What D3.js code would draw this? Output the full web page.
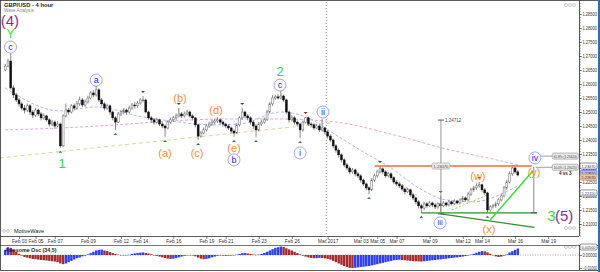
<!DOCTYPE html>
<html>
<head>
<meta charset="utf-8">
<script src="https://cdn.jsdelivr.net/npm/d3@7"></script>
<style>
body { margin: 0; background: #fff; }
svg { display: block; }
</style>
</head>
<body>
<script>
// GBP/USD 4 hour bars, first bar Feb 02 04:00, open of first bar
var firstOpen = 1.2650;
var closes = [
  1.2664, 1.2682, 1.2586, 1.2561, 1.2543, 1.2529, 1.2514, 1.2507, 1.2522, 1.2500,
  1.2489, 1.2507, 1.2493, 1.2479, 1.2486, 1.2472, 1.2457, 1.2464, 1.2450, 1.2457,
  1.2379, 1.2486, 1.2507, 1.2500, 1.2522, 1.2514, 1.2529, 1.2543, 1.2525, 1.2536,
  1.2550, 1.2568, 1.2561, 1.2579, 1.2543, 1.2529, 1.2514, 1.2522, 1.2500, 1.2479,
  1.2464, 1.2493, 1.2500, 1.2507, 1.2500, 1.2514, 1.2525, 1.2522, 1.2532, 1.2543,
  1.2543, 1.2500, 1.2479, 1.2472, 1.2464, 1.2472, 1.2457, 1.2450, 1.2443, 1.2464,
  1.2472, 1.2479, 1.2486, 1.2493, 1.2486, 1.2493, 1.2500, 1.2486, 1.2479, 1.2454,
  1.2414, 1.2425, 1.2436, 1.2450, 1.2457, 1.2464, 1.2468, 1.2472, 1.2464, 1.2457,
  1.2450, 1.2443, 1.2432, 1.2425, 1.2454, 1.2479, 1.2500, 1.2486, 1.2479, 1.2464,
  1.2450, 1.2436, 1.2457, 1.2464, 1.2472, 1.2500, 1.2529, 1.2550, 1.2554, 1.2550,
  1.2557, 1.2543, 1.2500, 1.2472, 1.2479, 1.2464, 1.2457, 1.2436, 1.2464, 1.2479,
  1.2457, 1.2454, 1.2443, 1.2450, 1.2436, 1.2443, 1.2429, 1.2414, 1.2400, 1.2379,
  1.2364, 1.2347, 1.2329, 1.2311, 1.2300, 1.2286, 1.2293, 1.2279, 1.2272, 1.2257,
  1.2243, 1.2229, 1.2222, 1.2257, 1.2272, 1.2286, 1.2297, 1.2286, 1.2272, 1.2279,
  1.2265, 1.2250, 1.2243, 1.2236, 1.2225, 1.2215, 1.2222, 1.2204, 1.2193, 1.2179,
  1.2165, 1.2157, 1.2172, 1.2165, 1.2175, 1.2168, 1.2161, 1.2172, 1.2165, 1.2175,
  1.2168, 1.2179, 1.2172, 1.2182, 1.2175, 1.2186, 1.2193, 1.2186, 1.2207, 1.2222,
  1.2229, 1.2236, 1.2240, 1.2222, 1.2211, 1.2150, 1.2161, 1.2165, 1.2172, 1.2186,
  1.2200, 1.2229, 1.2250, 1.2279, 1.2300, 1.2286, 1.2275
];
var highs = [
  1.2672, 1.2690, 1.2710, 1.2595, 1.2568, 1.2550, 1.2536, 1.2525, 1.2530, 1.2528,
  1.2507, 1.2515, 1.2512, 1.2500, 1.2495, 1.2490, 1.2478, 1.2472, 1.2470, 1.2468,
  1.2462, 1.2492, 1.2530, 1.2515, 1.2528, 1.2530, 1.2540, 1.2555, 1.2550, 1.2545,
  1.2558, 1.2575, 1.2578, 1.2593, 1.2585, 1.2550, 1.2535, 1.2530, 1.2527, 1.2505,
  1.2485, 1.2500, 1.2508, 1.2515, 1.2512, 1.2522, 1.2532, 1.2535, 1.2540, 1.2550,
  1.2557, 1.2548, 1.2505, 1.2486, 1.2478, 1.2480, 1.2476, 1.2465, 1.2455, 1.2470,
  1.2480, 1.2486, 1.2495, 1.2514, 1.2500, 1.2502, 1.2508, 1.2505, 1.2492, 1.2482,
  1.2458, 1.2432, 1.2445, 1.2458, 1.2465, 1.2472, 1.2476, 1.2482, 1.2478, 1.2470,
  1.2462, 1.2455, 1.2448, 1.2438, 1.2460, 1.2485, 1.2514, 1.2505, 1.2492, 1.2485,
  1.2470, 1.2456, 1.2464, 1.2472, 1.2480, 1.2508, 1.2536, 1.2560, 1.2562, 1.2565,
  1.2579, 1.2562, 1.2548, 1.2505, 1.2488, 1.2485, 1.2470, 1.2462, 1.2470, 1.2482,
  1.2484, 1.2464, 1.2460, 1.2458, 1.2456, 1.2475, 1.2448, 1.2435, 1.2420, 1.2405,
  1.2385, 1.2370, 1.2352, 1.2335, 1.2318, 1.2306, 1.2300, 1.2298, 1.2285, 1.2278,
  1.2262, 1.2248, 1.2235, 1.2264, 1.2280, 1.2294, 1.2307, 1.2302, 1.2292, 1.2286,
  1.2284, 1.2270, 1.2256, 1.2250, 1.2242, 1.2230, 1.2230, 1.2226, 1.2210, 1.2198,
  1.2185, 1.2172, 1.2180, 1.2178, 1.2182, 1.2180, 1.2174, 1.2178, 1.2200, 1.2182,
  1.2180, 1.2185, 1.2184, 1.2188, 1.2186, 1.2192, 1.2200, 1.2198, 1.2215, 1.2230,
  1.2236, 1.2245, 1.2250, 1.2244, 1.2228, 1.2215, 1.2168, 1.2172, 1.2180, 1.2192,
  1.2208, 1.2236, 1.2258, 1.2288, 1.2311, 1.2305, 1.2292
];
var lows = [
  1.2645, 1.2660, 1.2580, 1.2550, 1.2536, 1.2520, 1.2505, 1.2495, 1.2500, 1.2490,
  1.2478, 1.2482, 1.2486, 1.2470, 1.2472, 1.2465, 1.2448, 1.2450, 1.2440, 1.2445,
  1.2372, 1.2375, 1.2480, 1.2490, 1.2495, 1.2505, 1.2510, 1.2522, 1.2518, 1.2518,
  1.2530, 1.2545, 1.2552, 1.2555, 1.2536, 1.2520, 1.2505, 1.2508, 1.2490, 1.2470,
  1.2436, 1.2460, 1.2485, 1.2492, 1.2490, 1.2495, 1.2508, 1.2512, 1.2515, 1.2526,
  1.2535, 1.2495, 1.2472, 1.2462, 1.2455, 1.2458, 1.2450, 1.2442, 1.2411, 1.2438,
  1.2458, 1.2465, 1.2472, 1.2480, 1.2478, 1.2480, 1.2488, 1.2480, 1.2470, 1.2445,
  1.2400, 1.2408, 1.2420, 1.2430, 1.2443, 1.2450, 1.2456, 1.2460, 1.2456, 1.2448,
  1.2442, 1.2436, 1.2424, 1.2411, 1.2420, 1.2448, 1.2472, 1.2478, 1.2470, 1.2455,
  1.2440, 1.2411, 1.2430, 1.2450, 1.2458, 1.2468, 1.2495, 1.2522, 1.2543, 1.2545,
  1.2545, 1.2536, 1.2492, 1.2462, 1.2465, 1.2455, 1.2448, 1.2407, 1.2430, 1.2458,
  1.2450, 1.2445, 1.2436, 1.2438, 1.2428, 1.2430, 1.2420, 1.2405, 1.2392, 1.2370,
  1.2355, 1.2338, 1.2320, 1.2302, 1.2292, 1.2278, 1.2280, 1.2270, 1.2264, 1.2248,
  1.2235, 1.2220, 1.2207, 1.2218, 1.2250, 1.2265, 1.2280, 1.2278, 1.2265, 1.2266,
  1.2258, 1.2242, 1.2236, 1.2228, 1.2218, 1.2206, 1.2210, 1.2196, 1.2185, 1.2170,
  1.2155, 1.2140, 1.2150, 1.2158, 1.2160, 1.2160, 1.2154, 1.2155, 1.2136, 1.2160,
  1.2162, 1.2163, 1.2166, 1.2168, 1.2170, 1.2170, 1.2180, 1.2180, 1.2182, 1.2200,
  1.2215, 1.2222, 1.2230, 1.2215, 1.2204, 1.2140, 1.2144, 1.2155, 1.2158, 1.2165,
  1.2180, 1.2195, 1.2222, 1.2245, 1.2272, 1.2280, 1.2270
];
// Awesome oscillator, in thousandths
var aoMilli = [
  4, 6, 5.5, 4, 2.5, 1, -0.5, -1.5, -2, -2.5,
  -3, -3.2, -3.5, -3.8, -4, -4.2, -4.5, -4.8, -5, -5.5,
  -6.5, -7, -6.5, -5.5, -4.5, -3.5, -2.5, -2, -1, -0.5,
  0.5, 1.5, 2.5, 3.5, 4, 4.2, 3.5, 3, 2.2, 1.5,
  0.8, 0.3, 0, -0.3, -0.2, 0.2, 0.8, 1.2, 1.6, 1.8,
  2, 1.6, 1.2, 0.6, 0, -0.6, -1.2, -1.8, -2.3, -2.7,
  -3, -2.8, -2.4, -1.8, -1.2, -0.6, -0.3, -0.2, -0.4, -1,
  -2, -2.8, -3.2, -3, -2.5, -1.8, -1.2, -0.6, -0.3, -0.5,
  -0.6, -0.5, -0.4, -0.2, 0.3, 0.8, 1.4, 1.6, 1.2, 0.8,
  0.4, 0.2, 0.3, 0.8, 1.5, 2.5, 3.5, 4.5, 5.5, 6,
  6.5, 6.2, 5.2, 4.3, 3.5, 2.5, 1.5, 0.5, -0.5, -1.2,
  -1.8, -2.2, -2.5, -2.4, -2.2, -2.3, -2.6, -3, -3.5, -4.5,
  -5.5, -6.5, -7.5, -8.5, -9.2, -9.8, -10, -9.8, -9.5, -9.2,
  -9, -8.7, -8.5, -8, -7.5, -7, -6.5, -6, -5.5, -5,
  -4.5, -4, -3.8, -3.6, -3.8, -4, -4.2, -4.5, -4.7, -4.8,
  -4.9, -5, -4.8, -4.5, -4.3, -4, -3.8, -3.5, -3.3, -3,
  -2.8, -2.5, -2.3, -2, -1.8, -1.5, -1.2, -0.8, -0.4, 0.3,
  1, 1.8, 2.5, 3, 2.8, 2, 1, 0, -1, -1.5,
  -1.2, -0.5, 0.5, 2, 3, 4, 5
];
// moving averages read at a few bars: [bar, price]
var slowMA = [[0, 1.2436], [20, 1.2443], [40, 1.2454], [60, 1.2468], [80, 1.2475], [100, 1.2475],
  [120, 1.2464], [140, 1.2421], [160, 1.2368], [180, 1.2325], [186, 1.2311]];
var fastMA = [[0, 1.2586], [20, 1.2504], [33, 1.2518], [50, 1.2482], [60, 1.2468], [75, 1.2454],
  [85, 1.2457], [100, 1.2500], [110, 1.2479], [120, 1.2418], [130, 1.2357], [140, 1.2300],
  [150, 1.2229], [160, 1.2186], [170, 1.2179], [180, 1.2207], [186, 1.2236]];

var priceTicks = [1.285, 1.280, 1.275, 1.270, 1.265, 1.260, 1.255, 1.250, 1.245, 1.240, 1.235, 1.230, 1.225, 1.220, 1.215, 1.210];
var dateLabels = ["Feb 03", "Feb 05", "Feb 07", "Feb 09", "Feb 12", "Feb 14", "Feb 16", "Feb 19", "Feb 21", "Feb 23",
  "Feb 26", "Mar 2017", "Mar 03", "Mar 05", "Mar 07", "Mar 09", "Mar 12", "Mar 14", "Mar 16", "Mar 19"];
var dateDays = ["2017-02-03", "2017-02-05", "2017-02-07", "2017-02-09", "2017-02-12", "2017-02-14", "2017-02-16",
  "2017-02-19", "2017-02-21", "2017-02-23", "2017-02-26", "2017-03-01", "2017-03-03", "2017-03-05", "2017-03-07",
  "2017-03-09", "2017-03-12", "2017-03-14", "2017-03-16", "2017-03-19"];

// wave count labels
var waveText = ["(4)", "Y", "c", "1", "a", "(a)", "(b)", "(c)", "(d)", "(e)", "b", "2", "c", "i", "ii", "iii", "(w)", "(x)", "(y)", "iv", "3", "(5)"];
var waveKind = ["P", "G", "C", "G", "C", "O", "O", "O", "O", "O", "C", "G", "C", "C", "C", "C", "O", "O", "O", "C", "G", "P"];
var waveBar = [1.7, 1.9, 1.9, 20.6, 33, 58, 63.4, 69.6, 76.5, 83, 83, 99.7, 99.7, 107, 115.3, 157.8, 171.5, 175.5, 191.9, 192.2, 198.2, 202.8];
var wavePrice = [1.2827, 1.2780, 1.2732, 1.2318, 1.2614, 1.2354, 1.2550, 1.2354, 1.2507, 1.2371, 1.2329, 1.2646, 1.2596,
  1.2354, 1.2500, 1.2104, 1.2271, 1.2082, 1.2286, 1.2336, 1.2129, 1.2129];

var swingHighBars = [2, 33, 50, 63, 86, 100, 109, 115, 136, 158, 172];
var swingLowBars = [20, 40, 58, 70, 83, 91, 107, 132, 151, 158, 175];

// drawn studies: [bar, price] pairs
var khakiTrend = [[-2, 1.2336], [118, 1.2461]];
var orangeDash = [[136, 1.2302], [150, 1.2197]];
var khakiDash = [[162, 1.2150], [175, 1.2204]];
var resistance = [[134, 1.2307], [191, 1.2307]];
var greenFlat = [[151, 1.2140], [193, 1.2140]];
var greenDown = [[158, 1.2136], [192, 1.2088]];
var limeUp = [[176, 1.2114], [191.5, 1.2290]];
var measureLine = [[158.1, 1.24712], [158.1, 1.2136]];
var yLine = [[191.8, 1.2304], [191.8, 1.2140]];
var fibLevels = [1.23424, 1.23025];
var fibNames = ["61.8%", "50.0%"];

var W = 600, H = 272;
var plotR = 579, mainTop = 2, mainBot = 236, oscTop = 245, oscBot = 270;
var font = "'Liberation Sans', Arial, sans-serif";

// 4 hour sessions, Saturday closed, Sunday has one bar
var bars = [];
var t = Date.UTC(2017, 1, 2, 4);
while (bars.length < 215) {
  var d = new Date(t);
  var wd = d.getUTCDay();
  if (!(wd === 6 || (wd === 0 && d.getUTCHours() < 20))) bars.push(d);
  t += 4 * 3600 * 1000;
}
var fmtDay = d3.utcFormat("%Y-%m-%d");
function barOfDay(s) {
  for (var i = 0; i < bars.length; i++) if (fmtDay(bars[i]) === s) return i;
  return -1;
}

var candles = closes.map(function (c, i) {
  return { i: i, o: i === 0 ? firstOpen : closes[i - 1], c: c, h: highs[i], l: lows[i] };
});

var x = d3.scaleLinear().domain([-1.9, 208.2]).range([0, plotR]);
var y = d3.scaleLinear().domain([1.20571, 1.28929]).range([mainBot, mainTop]);
var yo = d3.scaleLinear().domain([-0.0115, 0.0077]).range([oscBot, oscTop]);

var svg = d3.select("body").append("svg")
  .attr("width", W).attr("height", H)
  .style("font-family", font);

svg.append("rect").attr("width", W).attr("height", H).attr("fill", "#fff");

var defs = svg.append("defs");
defs.append("clipPath").attr("id", "mainClip").append("rect")
  .attr("x", 0).attr("y", mainTop).attr("width", plotR).attr("height", mainBot - mainTop);

var main = svg.append("g").attr("clip-path", "url(#mainClip)");

// Mar 2017 separator
var marX = x(barOfDay("2017-03-01")) - 1.4;
main.append("line").attr("x1", marX).attr("x2", marX).attr("y1", mainTop).attr("y2", mainBot)
  .attr("stroke", "#999").attr("stroke-dasharray", "1,2");

var line = d3.line().x(function (p) { return x(p[0]); }).y(function (p) { return y(p[1]); });
var curve = d3.line().curve(d3.curveMonotoneX).x(function (p) { return x(p[0]); }).y(function (p) { return y(p[1]); });

main.append("path").attr("d", curve(slowMA)).attr("fill", "none").attr("stroke", "#e0a8e0").attr("stroke-width", 1).attr("stroke-dasharray", "3,2");
main.append("path").attr("d", curve(fastMA)).attr("fill", "none").attr("stroke", "#a8b8ff").attr("stroke-width", 1).attr("stroke-dasharray", "3,2");
main.append("path").attr("d", line(khakiTrend)).attr("fill", "none").attr("stroke", "#d8d8a0").attr("stroke-width", 1).attr("stroke-dasharray", "4,3");
main.append("path").attr("d", line(orangeDash)).attr("fill", "none").attr("stroke", "#f5b090").attr("stroke-width", 1).attr("stroke-dasharray", "2,2");
main.append("path").attr("d", line(khakiDash)).attr("fill", "none").attr("stroke", "#b8b060").attr("stroke-width", 1).attr("stroke-dasharray", "2,2");

// candles
var bw = 1.9;
main.append("g").selectAll("line").data(candles).enter().append("line")
  .attr("x1", function (d) { return x(d.i); }).attr("x2", function (d) { return x(d.i); })
  .attr("y1", function (d) { return y(d.h); }).attr("y2", function (d) { return y(d.l); })
  .attr("stroke", "#555").attr("stroke-width", 0.7);
main.append("g").selectAll("rect").data(candles).enter().append("rect")
  .attr("x", function (d) { return x(d.i) - bw / 2; })
  .attr("y", function (d) { return y(Math.max(d.o, d.c)); })
  .attr("width", bw)
  .attr("height", function (d) { return Math.max(0.8, Math.abs(y(d.o) - y(d.c))); })
  .attr("fill", function (d) { return d.c >= d.o ? "#fff" : "#111"; })
  .attr("stroke", function (d) { return d.c >= d.o ? "#666" : "#111"; })
  .attr("stroke-width", 0.5);

// swing markers
main.append("g").selectAll("path").data(swingHighBars).enter().append("path")
  .attr("d", function (i) { var cx = x(i), cy = y(highs[i]) - 3; return "M" + (cx - 2) + "," + (cy - 2) + "L" + (cx + 2) + "," + (cy - 2) + "L" + cx + "," + cy + "Z"; })
  .attr("fill", "#8b2222");
main.append("g").selectAll("path").data(swingLowBars).enter().append("path")
  .attr("d", function (i) { var cx = x(i), cy = y(lows[i]) + 3; return "M" + (cx - 2) + "," + (cy + 2) + "L" + (cx + 2) + "," + (cy + 2) + "L" + cx + "," + cy + "Z"; })
  .attr("fill", "#2e7d4f");

// studies
main.append("path").attr("d", line(resistance)).attr("stroke", "#ff6a33").attr("stroke-width", 1.4).attr("fill", "none");
main.append("path").attr("d", line(greenFlat)).attr("stroke", "#2f8f2f").attr("stroke-width", 1.3).attr("fill", "none");
main.append("path").attr("d", line(greenDown)).attr("stroke", "#2f8f2f").attr("stroke-width", 1.3).attr("fill", "none");
main.append("path").attr("d", line(limeUp)).attr("stroke", "#33e033").attr("stroke-width", 1.4).attr("fill", "none");
main.append("path").attr("d", line(measureLine)).attr("stroke", "#999").attr("stroke-width", 1).attr("fill", "none");
main.append("path").attr("d", line(yLine)).attr("stroke", "#888").attr("stroke-width", 1).attr("fill", "none");

function cap(bar, price) {
  main.append("line").attr("x1", x(bar) - 3).attr("x2", x(bar) + 3).attr("y1", y(price)).attr("y2", y(price))
    .attr("stroke", "#555").attr("stroke-width", 1);
}
cap(measureLine[0][0], measureLine[0][1]);
cap(measureLine[1][0], measureLine[1][1]);
cap(yLine[1][0], yLine[1][1]);
main.append("text").attr("x", x(measureLine[0][0]) + 4).attr("y", y(measureLine[0][1]) + 2)
  .attr("font-size", 4.5).attr("fill", "#444").text(d3.format(".5f")(measureLine[0][1]));

function tag(parent, cx, cy, w, label, fill, stroke) {
  var g = parent.append("g");
  g.append("rect").attr("x", cx - w / 2).attr("y", cy - 3).attr("width", w).attr("height", 6).attr("rx", 1.5)
    .attr("fill", fill).attr("stroke", stroke).attr("stroke-width", 0.6);
  g.append("text").attr("x", cx).attr("y", cy + 1.6).attr("text-anchor", "middle").attr("font-size", 4.3)
    .attr("textLength", w - 3).attr("lengthAdjust", "spacingAndGlyphs")
    .attr("fill", "#333").text(label);
}
tag(main, x(measureLine[0][0]), y(resistance[0][1]), 18, d3.format(".5f")(resistance[0][1]), "#eee", "#999");

// fib projections from the (y) point
fibLevels.forEach(function (v, k) {
  main.append("line").attr("x1", x(192.5)).attr("x2", x(198.5)).attr("y1", y(v)).attr("y2", y(v))
    .attr("stroke", "#888").attr("stroke-width", 0.8);
  tag(main, x(198.5) + 13, y(v), 26, fibNames[k] + " (" + d3.format(".5f")(v) + ")", "#eee", "#888");
});
main.append("text").attr("x", x(203.2)).attr("y", y(fibLevels[1]) + 8).attr("text-anchor", "middle")
  .attr("font-size", 4.5).attr("font-weight", "bold").attr("fill", "#222").text("4 vs 3");

// wave labels
var kindStyle = {
  P: { color: "#8e2b8e", size: 15 },
  G: { color: "#33dd33", size: 13 },
  O: { color: "#ff8a33", size: 11 },
  C: { color: "#1a1aff", size: 9 }
};
waveText.forEach(function (s, k) {
  var st = kindStyle[waveKind[k]];
  var cx = x(waveBar[k]), cy = y(wavePrice[k]);
  var size = st.size;
  if (s === "3") size = 15;
  if (s === "Y") size = 12;
  if (s === "iii") size = 7.5;
  if (waveKind[k] === "C") {
    main.append("circle").attr("cx", cx).attr("cy", cy).attr("r", 6)
      .attr("fill", "#fff").attr("stroke", "#8c8cff").attr("stroke-width", 0.8);
  }
  main.append("text").attr("x", cx).attr("y", cy).attr("dy", "0.35em")
    .attr("text-anchor", "middle").attr("font-size", size)
    .attr("fill", st.color).text(s);
});

// title + legend
svg.append("text").attr("x", 4).attr("y", 6.6).attr("font-size", 5.8).attr("font-weight", "bold").attr("fill", "#222").text("GBP/USD - 4 hour");
svg.append("text").attr("x", 4).attr("y", 11.8).attr("font-size", 4.6).attr("fill", "#888").text("Wave Analysis");
svg.append("text").attr("x", 14).attr("y", 233).attr("font-size", 5.5).attr("fill", "#222").text("MotiveWave");
[4, 8].forEach(function (cx) {
  svg.append("circle").attr("cx", cx).attr("cy", 231).attr("r", 1.4).attr("fill", "none").attr("stroke", "#999").attr("stroke-width", 0.5);
});
function icons(x0, cy) {
  [0, 4, 8].forEach(function (dx) {
    svg.append("circle").attr("cx", x0 + dx).attr("cy", cy).attr("r", 1.5).attr("fill", "none").attr("stroke", "#aaa").attr("stroke-width", 0.6);
  });
}
icons(566, 5);
icons(566, 228);
icons(566, 247);

function styleAxisText(g) {
  g.selectAll("text").attr("font-size", 4.5).attr("fill", "#333").attr("font-family", font)
    .attr("textLength", 14.5).attr("lengthAdjust", "spacingAndGlyphs");
}

// right price axis
var axisG = svg.append("g").attr("transform", "translate(" + plotR + ",0)");
var minorTicks = d3.range(1.206, 1.2895, 0.001);
axisG.append("g").call(d3.axisRight(y).tickValues(minorTicks).tickSize(2).tickFormat(""))
  .call(function (g) { g.select(".domain").remove(); g.selectAll("line").attr("stroke", "#555").attr("stroke-width", 0.5); });
axisG.append("g").call(d3.axisRight(y).tickValues(priceTicks).tickSize(3).tickPadding(0.5).tickFormat(d3.format(".5f")))
  .call(function (g) {
    g.select(".domain").remove();
    g.selectAll("line").attr("stroke", "#333").attr("stroke-width", 0.6);
    styleAxisText(g);
  });
svg.append("line").attr("x1", plotR + 0.5).attr("x2", plotR + 0.5).attr("y1", 0).attr("y2", mainBot).attr("stroke", "#333").attr("stroke-width", 0.8);

// axis price tags
var lastClose = closes[closes.length - 1];
var axisTags = [
  { v: resistance[0][1], fill: "#fff", stroke: "#444" },
  { v: lastClose + 0.0006, fill: "#b8b8ff", stroke: "#4a4aff" },
  { v: lastClose - 0.0008, fill: "#f3c0a8", stroke: "#c96" },
  { v: 1.2211, fill: "#fff", stroke: "#444" }
];
axisTags.forEach(function (a) {
  tag(svg, plotR + 9.5, y(a.v), 17, d3.format(".5f")(a.v), a.fill, a.stroke);
});

// date axis
svg.append("line").attr("x1", 0).attr("x2", plotR).attr("y1", mainBot + 0.5).attr("y2", mainBot + 0.5).attr("stroke", "#333").attr("stroke-width", 0.8);
svg.append("line").attr("x1", 0).attr("x2", W).attr("y1", oscTop + 0.5).attr("y2", oscTop + 0.5).attr("stroke", "#555").attr("stroke-width", 0.8);
var dateTicks = dateLabels.map(function (s, k) { return { label: s, bar: barOfDay(dateDays[k]) }; });
var dateAxis = d3.axisTop(x).tickValues(dateTicks.map(function (d) { return d.bar; }))
  .tickSize(2).tickFormat(function (b, k) { return dateTicks[k].label; });
svg.append("g").attr("transform", "translate(0," + (mainBot + 3) + ")").call(dateAxis)
  .call(function (g) {
    g.select(".domain").remove();
    g.selectAll("line").attr("y1", -2.5).attr("y2", 0).attr("stroke", "#333").attr("stroke-width", 0.6);
    g.selectAll("text").attr("y", 4.2).attr("font-size", 4.8).attr("fill", "#333").attr("font-family", font);
  });
svg.append("line").attr("x1", marX).attr("x2", marX).attr("y1", mainBot).attr("y2", oscTop)
  .attr("stroke", "#999").attr("stroke-dasharray", "1,2");

// oscillator panel
var ao = aoMilli.map(function (v) { return v / 1000; });
var osc = svg.append("g");
osc.append("line").attr("x1", 0).attr("x2", plotR).attr("y1", yo(0)).attr("y2", yo(0))
  .attr("stroke", "#777").attr("stroke-dasharray", "1,1.5").attr("stroke-width", 0.6);
osc.selectAll("rect").data(ao).enter().append("rect")
  .attr("x", function (v, i) { return x(i) - 1.2; })
  .attr("width", 2.4)
  .attr("y", function (v) { return Math.min(yo(v), yo(0)); })
  .attr("height", function (v) { return Math.max(0.4, Math.abs(yo(v) - yo(0))); })
  .attr("fill", function (v, i) { return (i === 0 || v >= ao[i - 1]) ? "#2b3dff" : "#a52a2a"; });
svg.append("text").attr("x", 5).attr("y", oscTop + 6.5).attr("font-size", 5.3).attr("font-weight", "bold").attr("fill", "#222").text("Awesome Osc (34,5)");

var oAxis = svg.append("g").attr("transform", "translate(" + plotR + ",0)");
oAxis.append("g").call(d3.axisRight(yo).tickValues([0, -0.01]).tickSize(3).tickPadding(0.5).tickFormat(d3.format(".5f")))
  .call(function (g) {
    g.select(".domain").remove();
    g.selectAll("line").attr("stroke", "#333").attr("stroke-width", 0.6);
    styleAxisText(g);
  });
svg.append("line").attr("x1", plotR + 0.5).attr("x2", plotR + 0.5).attr("y1", oscTop).attr("y2", oscBot).attr("stroke", "#333").attr("stroke-width", 0.8);
var lastAo = ao[ao.length - 1];
tag(svg, plotR + 9.5, yo(lastAo) - 1.5, 17, d3.format(".5f")(lastAo), "#fff", "#444");

// frame
svg.append("rect").attr("x", 0.5).attr("y", 0.5).attr("width", W - 1).attr("height", oscBot).attr("fill", "none").attr("stroke", "#333").attr("stroke-width", 0.8);
svg.append("line").attr("x1", W - 1).attr("x2", W - 1).attr("y1", 0).attr("y2", H).attr("stroke", "#2a6fb5").attr("stroke-width", 2);
</script>
</body>
</html>
